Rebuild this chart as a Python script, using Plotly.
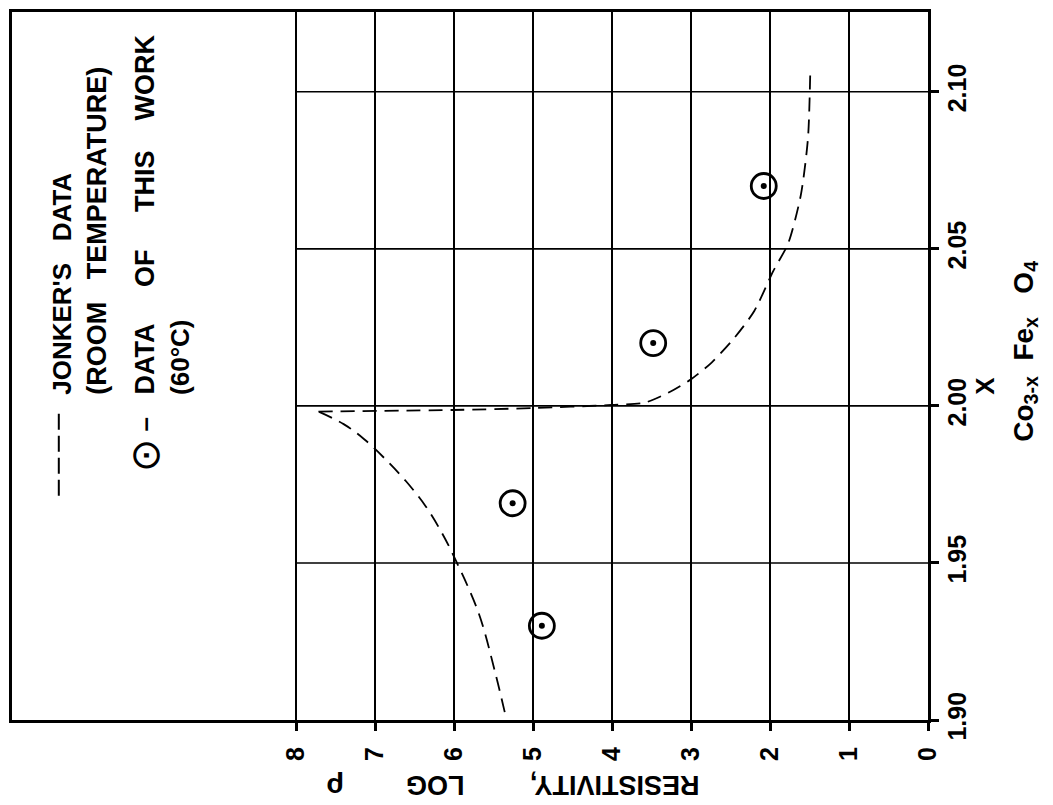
import plotly.graph_objects as go

# ---- data ----
# Jonker's data (room temperature): composition X vs log resistivity
jonker_x = [1.9025, 1.9150, 1.9340, 1.9508, 1.9593, 1.9680, 1.9760, 1.9830,
            1.9894, 1.9942, 1.9982,
            1.9987, 1.9993, 2.0003, 2.0010, 2.0042, 2.0085,
            2.0138, 2.0217, 2.0302, 2.0429, 2.0518, 2.0672, 2.0852, 2.1074]
jonker_logrho = [5.36, 5.48, 5.69, 5.98, 6.15, 6.36, 6.61, 6.87,
                 7.14, 7.40, 7.72,
                 6.03, 5.00, 4.01, 3.59, 3.29, 3.00,
                 2.74, 2.45, 2.20, 1.96, 1.77, 1.61, 1.52, 1.49]

# Data of this work (60 C)
work_x = [1.930, 1.969, 2.020, 2.070]
work_logrho = [4.89, 5.26, 3.48, 2.08]

logrho_ticks = [0, 1, 2, 3, 4, 5, 6, 7, 8]
x_ticks = [1.90, 1.95, 2.00, 2.05, 2.10]
x_ticktext = ["1.90", "1.95", "2.00", "2.05", "2.10"]

FONT = "Liberation Sans"
TXT = dict(family=FONT, size=26, color="black", weight="bold")

fig = go.Figure()

# split the Jonker curve at its cusp (maximum log rho) so each branch is smooth
tip = jonker_logrho.index(max(jonker_logrho))
dash_style = dict(color="black", width=1.8, dash="14px,8px")
fig.add_trace(go.Scatter(
    x=jonker_logrho[:tip + 1], y=jonker_x[:tip + 1], mode="lines",
    line=dict(**dash_style, shape="spline", smoothing=1.0),
    showlegend=False, hoverinfo="skip"))
fig.add_trace(go.Scatter(
    x=jonker_logrho[tip:], y=jonker_x[tip:], mode="lines",
    line=dict(**dash_style, shape="spline", smoothing=0.7),
    showlegend=False, hoverinfo="skip"))

fig.add_trace(go.Scatter(
    x=work_logrho, y=work_x, mode="markers",
    marker=dict(symbol="circle-open", size=25, color="black",
                line=dict(color="black", width=2.8)),
    showlegend=False, hoverinfo="skip"))
fig.add_trace(go.Scatter(
    x=work_logrho, y=work_x, mode="markers",
    marker=dict(symbol="circle", size=6, color="black"),
    showlegend=False, hoverinfo="skip"))

# horizontal grid lines only across the graded part (log rho 0..8)
for v in x_ticks[1:]:
    fig.add_shape(type="line", xref="x", yref="y", x0=max(logrho_ticks), x1=min(logrho_ticks),
                  y0=v, y1=v, line=dict(color="black", width=1.6), layer="below")

fig.update_xaxes(
    range=[11.6, 0], tickvals=logrho_ticks, ticktext=[str(t) for t in logrho_ticks],
    tickangle=-90, ticks="outside", ticklen=8, tickwidth=2.5, tickcolor="black",
    showgrid=True, gridcolor="black", gridwidth=1.6, zeroline=False,
    showline=True, mirror=True, linecolor="black", linewidth=3,
    tickfont=dict(family=FONT, size=25, color="black", weight="bold"),
    ticklabelstandoff=6)

fig.update_yaxes(
    range=[1.90, 2.1254], side="right", tickvals=x_ticks, ticktext=x_ticktext,
    tickangle=-90, ticks="outside", ticklen=8, tickwidth=2.5, tickcolor="black",
    showgrid=False, zeroline=False,
    showline=True, mirror=True, linecolor="black", linewidth=3,
    tickfont=dict(family=FONT, size=25, color="black", weight="bold"),
    ticklabelstandoff=-3)

ann = []
# legend block (rotated text)
ann.append(dict(text="JONKER'S   DATA", x=0.0544, y=0.4563, xref="paper", yref="paper",
                xanchor="center", yanchor="bottom", textangle=-90, showarrow=False, font=TXT))
ann.append(dict(text="(ROOM   TEMPERATURE)", x=0.0925, y=0.4563, xref="paper", yref="paper",
                xanchor="center", yanchor="bottom", textangle=-90, showarrow=False,
                font=dict(family=FONT, size=27, color="black", weight="bold")))
ann.append(dict(text="DATA     OF     THIS    WORK", x=0.1447, y=0.4563, xref="paper", yref="paper",
                xanchor="center", yanchor="bottom", textangle=-90, showarrow=False,
                font=dict(family=FONT, size=27, color="black", weight="bold")))
ann.append(dict(text="(60°C)", x=0.1839, y=0.4563, xref="paper", yref="paper",
                xanchor="center", yanchor="bottom", textangle=-90, showarrow=False, font=TXT))
ann.append(dict(text="–", x=0.1447, y=0.4169, xref="paper", yref="paper",
                xanchor="center", yanchor="middle", textangle=-90, showarrow=False, font=TXT))
ann.append(dict(text="⊙", x=0.1447, y=0.3732, xref="paper", yref="paper",
                xanchor="center", yanchor="middle", textangle=-90, showarrow=False,
                font=dict(family="DejaVu Sans", size=40, color="black")))

# axis titles
ann.append(dict(text="RESISTIVITY,", x=0.6580, y=-0.0915, xref="paper", yref="paper",
                xanchor="center", yanchor="middle", textangle=180, showarrow=False,
                font=dict(family=FONT, size=27, color="black", weight="bold")))
ann.append(dict(text="LOG", x=0.4620, y=-0.0915, xref="paper", yref="paper",
                xanchor="center", yanchor="middle", textangle=180, showarrow=False,
                font=dict(family=FONT, size=27, color="black", weight="bold")))
ann.append(dict(text="ρ", x=0.3525, y=-0.0945, xref="paper", yref="paper",
                xanchor="center", yanchor="middle", textangle=180, showarrow=False,
                font=dict(family=FONT, size=28, color="black", weight="bold")))
ann.append(dict(text="X", x=1.062, y=0.4718, xref="paper", yref="paper",
                xanchor="center", yanchor="middle", textangle=-90, showarrow=False, font=TXT))
ann.append(dict(text="Co<sub>3-x</sub>  Fe<sub>x</sub>   O<sub>4</sub>", x=1.1055, y=0.521,
                xref="paper", yref="paper", xanchor="center", yanchor="middle", textangle=-90,
                showarrow=False, font=dict(family=FONT, size=28, color="black", weight="bold")))

fig.update_layout(
    width=1053, height=805,
    margin=dict(l=9, r=125, t=10, b=85),
    plot_bgcolor="white", paper_bgcolor="white",
    showlegend=False, annotations=ann,
    shapes=list(fig.layout.shapes) + [
        dict(type="line", xref="paper", yref="paper", x0=0.0511, x1=0.0511, y0=0.4324, y1=0.3141,
             line=dict(color="black", width=2, dash="16px,6px"))
    ])

fig.write_html("out.html")
